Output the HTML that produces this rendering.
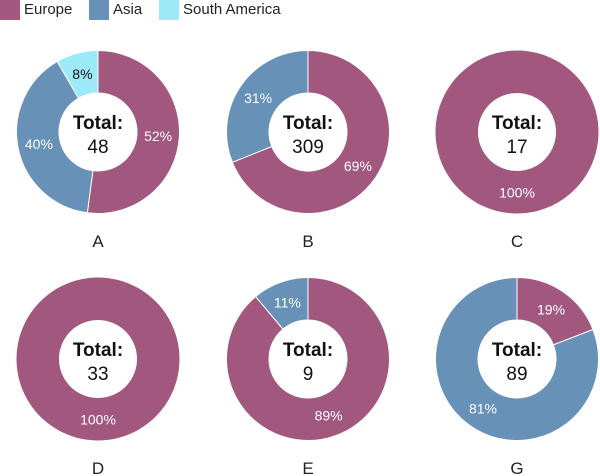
<!DOCTYPE html>
<html><head><meta charset="utf-8"><style>
body{margin:0;background:#fff;font-family:"Liberation Sans",sans-serif}
#c{position:relative;width:600px;height:476px}
.lg{position:absolute;top:0;height:20px;font-size:15px;line-height:20px;color:#222}
.sw{position:absolute;top:0;width:20px;height:20px}
</style></head><body>
<div id="c">
<div class="sw" style="left:0;background:#a2577e"></div>
<div class="lg" style="left:24px">Europe</div>
<div class="sw" style="left:89px;background:#6891b8"></div>
<div class="lg" style="left:113px">Asia</div>
<div class="sw" style="left:159px;background:#9ceaf8"></div>
<div class="lg" style="left:183px">South America</div>
<svg id="s" width="600" height="476" style="position:absolute;left:0;top:0"></svg>
</div>
<script>
const categories=["A","B","C","D","E","G"];
const europe=[25,213,17,33,8,17];
const asia=[19,96,0,0,1,72];
const southAmerica=[4,0,0,0,0,0];
const colors=["#a2577e","#6891b8","#9ceaf8"];
const names=["europe","asia","south-america"];
const centersX=[98,308,517];const centersY=[132,359];
const R=81.5,r=39;
const s=document.getElementById('s');const NS="http://www.w3.org/2000/svg";
function mk(t,a){const e=document.createElementNS(NS,t);for(const k in a)e.setAttribute(k,a[k]);s.appendChild(e);return e;}
function pt(cx,cy,rad,f){const a=f*2*Math.PI;return [cx+rad*Math.sin(a),cy-rad*Math.cos(a)];}
categories.forEach((cat,i)=>{
  const cx=centersX[i%3],cy=centersY[Math.floor(i/3)];
  const vals=[europe[i],asia[i],southAmerica[i]];
  const tot=vals.reduce((a,b)=>a+b,0);
  let acc=0;
  vals.forEach((v,j)=>{
    if(!v)return;
    const f0=acc/tot,f1=(acc+v)/tot;acc+=v;
    let el;
    if(f1-f0>=0.9999){
      el=mk('path',{d:`M${cx} ${cy-R}A${R} ${R} 0 1 1 ${cx-0.01} ${cy-R}ZM${cx} ${cy-r}A${r} ${r} 0 1 0 ${cx+0.01} ${cy-r}Z`,fill:colors[j],'fill-rule':'evenodd'});
    }else{
      const [x0,y0]=pt(cx,cy,R,f0),[x1,y1]=pt(cx,cy,R,f1),[x2,y2]=pt(cx,cy,r,f1),[x3,y3]=pt(cx,cy,r,f0);
      const lg=f1-f0>0.5?1:0;
      el=mk('path',{d:`M${x0} ${y0}A${R} ${R} 0 ${lg} 1 ${x1} ${y1}L${x2} ${y2}A${r} ${r} 0 ${lg} 0 ${x3} ${y3}Z`,fill:colors[j],stroke:'#fff','stroke-width':1});
    }
    
    
    const [lx,ly]=pt(cx,cy,(R+r)/2,(f0+f1)/2);
    const t=mk('text',{x:lx,y:ly+5,'text-anchor':'middle','font-size':14,fill:j==2?'#111':'#fff'});
    t.textContent=Math.round(v/tot*100)+'%';
    
    
  });
  const t1=mk('text',{x:cx,y:cy-3,'text-anchor':'middle','font-size':19,'font-weight':'bold',fill:'#111'});
  t1.textContent='Total:';
  
  
  const t2=mk('text',{x:cx,y:cy+21,'text-anchor':'middle','font-size':19,fill:'#111'});
  t2.textContent=tot;
  
  
  const t3=mk('text',{x:cx,y:cy+115,'text-anchor':'middle','font-size':17,fill:'#222'});
  t3.textContent=cat;
  
  
});
</script>
</body></html>
